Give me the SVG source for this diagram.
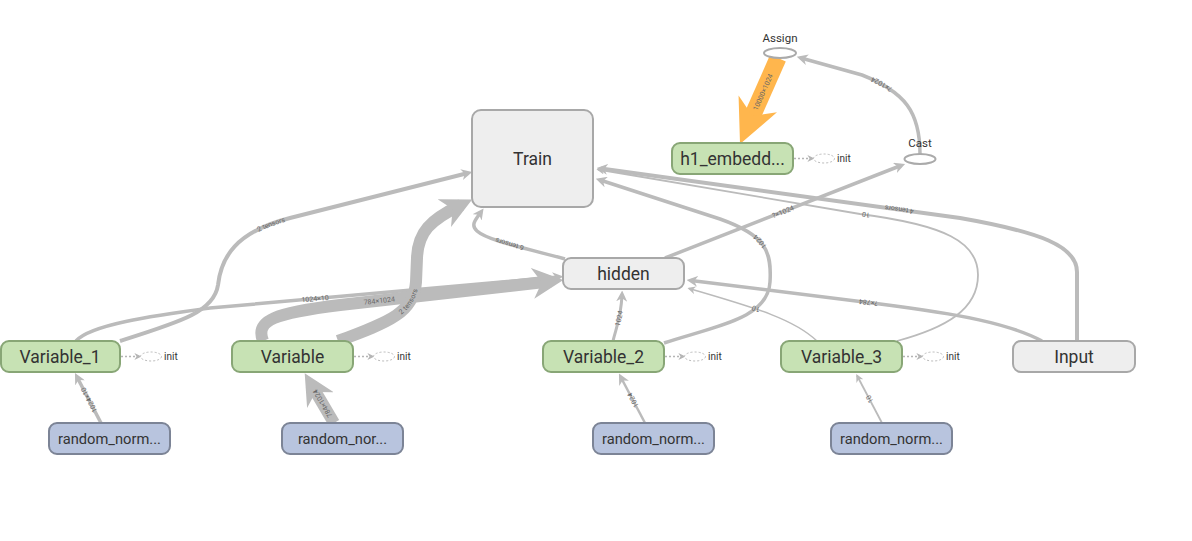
<svg xmlns="http://www.w3.org/2000/svg" xmlns:xlink="http://www.w3.org/1999/xlink" width="1192" height="541" viewBox="0 0 1192 541">
<style>
.e{fill:none;stroke:#bbbbbb;stroke-linecap:butt}
.lbl{font-family:Roboto,"Liberation Sans",sans-serif;font-size:7px;fill:#666}
.op{fill:#eeeeee;stroke:#a8a8a8;stroke-width:2}
.var{fill:#c7e2b4;stroke:#88a676;stroke-width:2}
.rn{fill:#b8c4de;stroke:#7c8496;stroke-width:2}
.t{font-family:Roboto,"Liberation Sans",sans-serif;font-size:17.5px;fill:#333;text-anchor:middle}
.ts{font-family:Roboto,"Liberation Sans",sans-serif;font-size:14.7px;fill:#333;text-anchor:middle}
.tsm{font-family:Roboto,"Liberation Sans",sans-serif;font-size:11.5px;fill:#333;text-anchor:middle}
.init{font-family:Roboto,"Liberation Sans",sans-serif;font-size:10px;fill:#333}
.ie{fill:none;stroke:#b5b5b5;stroke-width:1.3;stroke-dasharray:2,2}
.ell{fill:#fff;stroke:#aaaaaa;stroke-width:2}
.iell{fill:#fff;stroke:#bbbbbb;stroke-width:1;stroke-dasharray:2,2}
</style>
<defs>
<marker id="ah" viewBox="0 0 10 10" markerUnits="userSpaceOnUse" markerWidth="11" markerHeight="11" refX="6" refY="5" orient="auto"><path d="M0,0 L10,5 L0,10 L3,5 z" fill="#bbbbbb"/></marker>
<marker id="ahx" viewBox="0 0 10 10" markerUnits="userSpaceOnUse" markerWidth="8" markerHeight="8" refX="8" refY="5" orient="auto"><path d="M0,0 L10,5 L0,10 L3,5 z" fill="#bbbbbb"/></marker>
<marker id="ahL" viewBox="0 0 10 10" markerUnits="userSpaceOnUse" markerWidth="31" markerHeight="31" refX="6" refY="5" orient="auto"><path d="M0,0 L10,5 L0,10 L3,5 z" fill="#bbbbbb"/></marker>
<marker id="ahO" viewBox="0 0 10 10" markerUnits="userSpaceOnUse" markerWidth="44" markerHeight="42" refX="5.5" refY="5" orient="auto-start-reverse" preserveAspectRatio="none"><path d="M0,0 L10,5 L0,10 L3,5 z" fill="#ffb64d"/></marker>
<marker id="ahi" viewBox="0 0 10 10" markerUnits="userSpaceOnUse" markerWidth="7" markerHeight="7" refX="8" refY="5" orient="auto"><path d="M0,0 L10,5 L0,10 L3,5 z" fill="#b5b5b5"/></marker>
</defs>

<g id="connectors">
<path id="p1" class="e" stroke-width="3.5" marker-end="url(#ah)" d="M101,423 L77,377"/>
<path id="p2" class="e" stroke-width="12" marker-end="url(#ahL)" d="M334,423 L311,384"/>
<path id="p3" class="e" stroke-width="2.5" marker-end="url(#ah)" d="M645,423 L621,377.5"/>
<path id="p4" class="e" stroke-width="1.8" marker-end="url(#ahx)" d="M882,423 L857,375.5"/>
<path id="p5" class="e" stroke-width="4" marker-end="url(#ah)" d="M120,341 C180,322 214,312 218,285 C221,258 235,232 290,218 L468,173"/>
<path id="p6" class="e" stroke-width="3.5" marker-end="url(#ah)" d="M76,341 C90,325 150,316 210,308 L559,277"/>
<path id="p6b" class="e" stroke-width="12" marker-end="url(#ahL)" d="M263,341 C255,320 275,313 340,305 L551,281.3"/>
<path id="p7" class="e" stroke-width="12" marker-end="url(#ahL)" d="M338,341 C390,322 414,312 416,282 L417,258 C418,232 430,220 461,205"/>
<path id="p8" class="e" stroke-width="3.5" marker-end="url(#ah)" d="M565,259 C530,249 488,241 477,231 C470,225 476,219 481,212"/>
<path id="p9" class="e" stroke-width="3.5" marker-end="url(#ah)" d="M664,343 C720,325 768,318 770,282 C772,250 765,235 720,219 L600,180"/>
<path id="p10" class="e" stroke-width="3" marker-end="url(#ah)" d="M613,341 C616,328 621,318 622,295"/>
<path id="p11" class="e" stroke-width="3.5" marker-end="url(#ah)" d="M665,258 L901,165.5"/>
<path id="p12" class="e" stroke-width="3.5" marker-end="url(#ah)" d="M920,154 C920,112 905,92 862,75 L801,58"/>
<path id="p13" class="e" style="stroke:#ffb64d" stroke-width="17" marker-start="url(#ahO)" d="M748,126 L778,58"/>
<path id="p14" class="e" stroke-width="1.4" marker-end="url(#ahx)" d="M817,341 C795,320 760,309 689,288.5"/>
<path id="p15" class="e" stroke-width="1.8" marker-end="url(#ahx)" d="M897,341 C945,328 978,310 978,275 C978,242 945,225 860,214 L598,169.5"/>
<path id="p16" class="e" stroke-width="3.5" marker-end="url(#ah)" d="M1042,341 C1010,324 960,314 880,304 L691,280.5"/>
<path id="p17" class="e" stroke-width="4" marker-end="url(#ah)" d="M1077,341 L1077,272 C1077,246 1040,232 960,218 L601,168.5"/>

<path class="ie" marker-end="url(#ahi)" d="M121,356.5 L140,356.5"/>
<path class="ie" marker-end="url(#ahi)" d="M354,356.5 L373,356.5"/>
<path class="ie" marker-end="url(#ahi)" d="M665,356.5 L684,356.5"/>
<path class="ie" marker-end="url(#ahi)" d="M903,356.5 L922,356.5"/>
<path class="ie" marker-end="url(#ahi)" d="M794,158.5 L813,158.5"/>

<text class="lbl" dy="2.5" text-anchor="middle"><textPath href="#p1" startOffset="50%">1024×10</textPath></text>
<text class="lbl" dy="2.5" text-anchor="middle"><textPath href="#p2" startOffset="50%">784×1024</textPath></text>
<text class="lbl" dy="2.5" text-anchor="middle"><textPath href="#p3" startOffset="50%">1024</textPath></text>
<text class="lbl" dy="2.5" text-anchor="middle"><textPath href="#p4" startOffset="50%">10</textPath></text>
<text class="lbl" dy="2.5" text-anchor="middle"><textPath href="#p5" startOffset="50%">2 tensors</textPath></text>
<text class="lbl" dy="2.5" text-anchor="middle"><textPath href="#p6" startOffset="50%">1024×10</textPath></text>
<text class="lbl" dy="2.5" text-anchor="middle"><textPath href="#p6b" startOffset="44%">784×1024</textPath></text>
<text class="lbl" dy="2.5" text-anchor="middle"><textPath href="#p7" startOffset="41%">2 tensors</textPath></text>
<text class="lbl" dy="2.5" text-anchor="middle"><textPath href="#p8" startOffset="50%">6 tensors</textPath></text>
<text class="lbl" dy="2.5" text-anchor="middle"><textPath href="#p9" startOffset="50%">1024</textPath></text>
<text class="lbl" dy="2.5" text-anchor="middle"><textPath href="#p10" startOffset="50%">1024</textPath></text>
<text class="lbl" dy="2.5" text-anchor="middle"><textPath href="#p11" startOffset="50%">?×1024</textPath></text>
<text class="lbl" dy="2.5" text-anchor="middle"><textPath href="#p12" startOffset="50%">?×1024</textPath></text>
<text class="lbl" dy="2.5" text-anchor="middle"><textPath href="#p13" startOffset="50%">10000×1024</textPath></text>
<text class="lbl" dy="2.5" text-anchor="middle"><textPath href="#p14" startOffset="50%">10</textPath></text>
<text class="lbl" dy="2.5" text-anchor="middle"><textPath href="#p15" startOffset="48%">10</textPath></text>
<text class="lbl" dy="2.5" text-anchor="middle"><textPath href="#p16" startOffset="50%">?×784</textPath></text>
<text class="lbl" dy="2.5" text-anchor="middle"><textPath href="#p17" startOffset="47%">4 tensors</textPath></text>
</g>

<g id="Train"><rect class="op" x="472" y="110" width="121" height="97" rx="9"/><text class="t" x="532.5" y="165">Train</text></g>
<g id="hidden"><rect class="op" x="563" y="258" width="121" height="31" rx="8"/><text class="t" x="623.5" y="280">hidden</text></g>
<g id="h1_embedding"><rect class="var" x="672" y="143" width="121" height="31" rx="8"/><text class="t" x="732.5" y="165">h1_embedd...</text>
<ellipse class="iell" cx="824" cy="158.5" rx="10.5" ry="4.5"/><text class="init" x="837" y="162">init</text></g>
<g id="Assign"><ellipse class="ell" cx="780" cy="53" rx="16" ry="5"/><text class="tsm" x="780" y="42">Assign</text></g>
<g id="Cast"><ellipse class="ell" cx="920" cy="159" rx="15.5" ry="5"/><text class="tsm" x="920" y="147">Cast</text></g>

<g id="Variable_1"><rect class="var" x="1" y="341" width="119" height="31" rx="8"/><text class="t" x="60" y="363">Variable_1</text>
<ellipse class="iell" cx="151" cy="356.5" rx="10.5" ry="4.5"/><text class="init" x="164" y="360">init</text></g>
<g id="Variable"><rect class="var" x="232" y="341" width="121" height="31" rx="8"/><text class="t" x="292.5" y="363">Variable</text>
<ellipse class="iell" cx="384" cy="356.5" rx="10.5" ry="4.5"/><text class="init" x="397" y="360">init</text></g>
<g id="Variable_2"><rect class="var" x="543" y="341" width="121" height="31" rx="8"/><text class="t" x="603.5" y="363">Variable_2</text>
<ellipse class="iell" cx="695" cy="356.5" rx="10.5" ry="4.5"/><text class="init" x="708" y="360">init</text></g>
<g id="Variable_3"><rect class="var" x="781" y="341" width="121" height="31" rx="8"/><text class="t" x="841.5" y="363">Variable_3</text>
<ellipse class="iell" cx="933" cy="356.5" rx="10.5" ry="4.5"/><text class="init" x="946" y="360">init</text></g>
<g id="Input"><rect class="op" x="1013" y="341" width="122" height="31" rx="8"/><text class="t" x="1074" y="363">Input</text></g>

<g id="random_normal_1"><rect class="rn" x="49" y="423" width="121" height="31" rx="8"/><text class="ts" x="109.5" y="444">random_norm...</text></g>
<g id="random_normal"><rect class="rn" x="282" y="423" width="121" height="31" rx="8"/><text class="ts" x="342.5" y="444">random_nor...</text></g>
<g id="random_normal_2"><rect class="rn" x="593" y="423" width="121" height="31" rx="8"/><text class="ts" x="653.5" y="444">random_norm...</text></g>
<g id="random_normal_3"><rect class="rn" x="831" y="423" width="121" height="31" rx="8"/><text class="ts" x="891.5" y="444">random_norm...</text></g>
</svg>
